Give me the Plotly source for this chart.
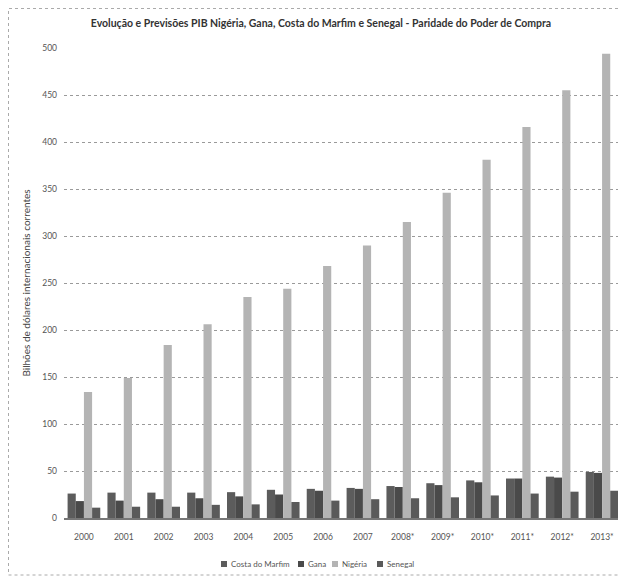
import plotly.graph_objects as go

years = ["2000", "2001", "2002", "2003", "2004", "2005", "2006", "2007",
         "2008*", "2009*", "2010*", "2011*", "2012*", "2013*"]
costa_do_marfim = [26, 27, 27, 27, 27.5, 30, 31, 32, 34, 37, 40, 42, 44, 49]
gana = [18, 18.5, 20, 21, 23, 25, 29, 31, 33, 35, 38, 42, 43, 48]
nigeria = [134, 149, 184, 206, 235, 244, 268, 290, 315, 346, 381, 416, 455, 494]
senegal = [11, 12, 12, 14, 14.5, 17, 18.5, 20, 21, 22, 24, 26, 28, 29]

series_names = ["Costa do Marfim", "Gana", "Nigéria", "Senegal"]
series_values = [costa_do_marfim, gana, nigeria, senegal]
series_colors = ["#5c5c5c", "#4a4a4a", "#b4b4b4", "#5a5a5a"]

# page body has an 8px default margin, so the figure is drawn offset by 8px
OFF = 8
W, H = 626 - OFF, 577 - OFF
ML, MR, MT, MB = 56, 4, 40, 59
PW, PH = W - ML - MR, H - MT - MB


def px_x(x):  # page x (px) -> paper coord
    return (x - OFF - ML) / PW


def px_y(y):  # page y (px) -> paper coord
    return (H - MB - (y - OFF)) / PH


fig = go.Figure()
for name, vals, col in zip(series_names, series_values, series_colors):
    fig.add_trace(go.Bar(name=name, x=years, y=vals, showlegend=False,
                         marker=dict(color=col, line=dict(width=0))))

font_family = "Lato"
fig.update_layout(
    width=W, height=H,
    margin=dict(l=ML, r=MR, t=MT, b=MB, autoexpand=False),
    paper_bgcolor="white", plot_bgcolor="white",
    barmode="group", bargap=0.18, bargroupgap=0.0,
    font=dict(family=font_family, size=8, color="#444"),
    title=dict(
        text="<b>Evolução e Previsões PIB Nigéria, Gana, Costa do Marfim e Senegal - Paridade do Poder de Compra</b>",
        x=(321 - OFF) / W, xref="container", xanchor="center",
        y=1 - (23 - OFF) / H, yref="container", yanchor="middle",
        font=dict(size=10.5, color="#333", family=font_family),
    ),
    showlegend=False,
)
fig.update_yaxes(range=[0, 500], dtick=50, showgrid=True, gridcolor="#9a9a9a",
                 griddash="dot", gridwidth=1, zeroline=False, showline=False,
                 ticks="", ticklabelstandoff=6, tickfont=dict(size=8.5, color="#555"),
                 title=dict(text="Bilhões de dólares internacionais correntes",
                            font=dict(size=10, color="#444"), standoff=9))
fig.update_xaxes(showline=True, linecolor="#777", linewidth=2, ticks="",
                 ticklabelstandoff=10,
                 tickfont=dict(size=8.5, color="#555"), showgrid=False)

# outer dotted frame
fig.add_shape(type="rect", xref="paper", yref="paper",
              x0=px_x(OFF + 0.5), x1=px_x(624),
              y0=px_y(575), y1=px_y(OFF + 0.5),
              line=dict(color="#aaa", width=1, dash="dot"), fillcolor="rgba(0,0,0,0)",
              layer="below")

# compact legend (symbol squares + text), positioned in page pixels
legend_x = [221, 298, 332, 377]
legend_y = 564
for name, col, lx in zip(series_names, series_colors, legend_x):
    fig.add_shape(type="rect", xref="paper", yref="paper",
                  x0=px_x(lx), x1=px_x(lx + 6),
                  y0=px_y(legend_y + 3), y1=px_y(legend_y - 3),
                  line=dict(width=0), fillcolor=col)
    fig.add_annotation(text=name, xref="paper", yref="paper",
                       x=px_x(lx + 8), y=px_y(legend_y),
                       xanchor="left", yanchor="middle", showarrow=False,
                       font=dict(size=8, color="#555"))

fig.write_html("out.html")
